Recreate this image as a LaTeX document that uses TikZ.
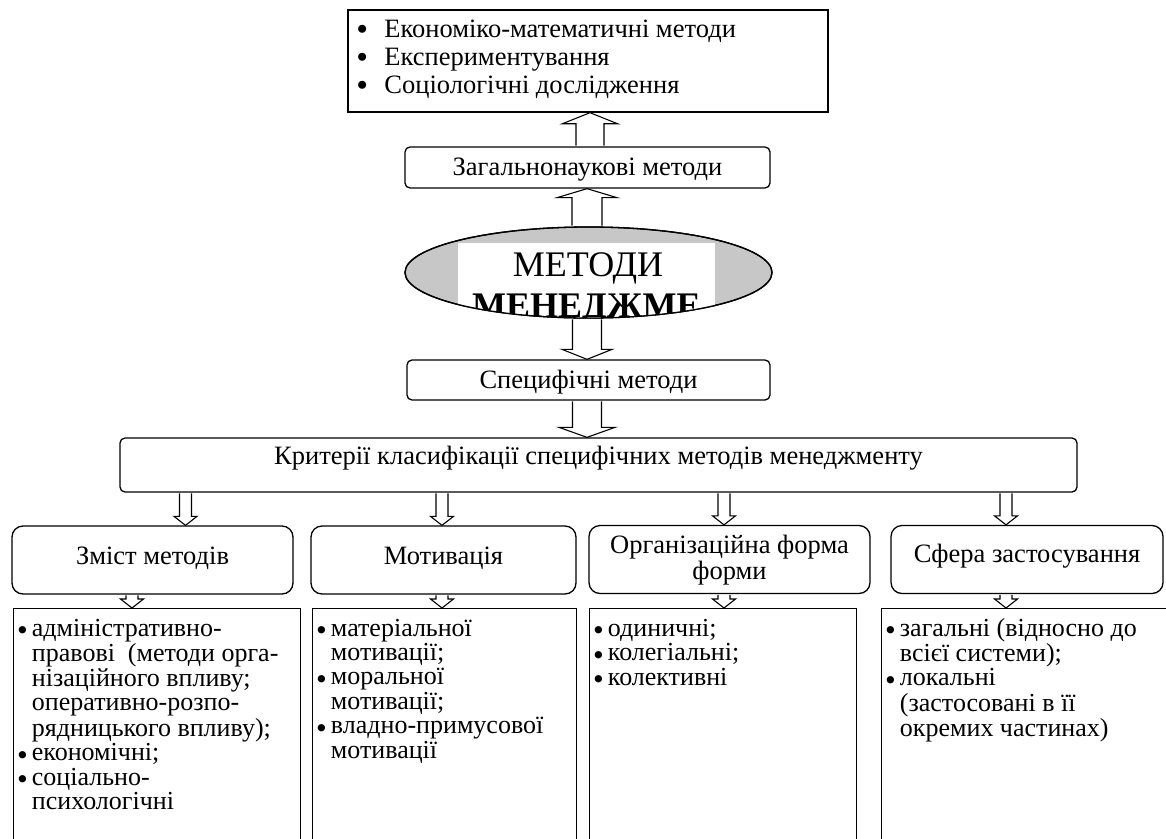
\documentclass[tikz,border=0pt]{standalone}
\usepackage{fontspec}
\setmainfont{Liberation Serif}
\newfontfamily\bulfont{DejaVu Sans}
\usetikzlibrary{calc,shapes.geometric}
% hollow block arrow: #1 from, #2 to, #3 shaft half width, #4 head half width, #5 head length
\newcommand\blkarrow[5]{%
  \draw[blk] let \p1=(#1), \p2=(#2), \n1={ifthenelse(\y1>\y2,1,-1)} in
   (\x1-#3pt,\y1-\n1*0.7pt) -- (\x1-#3pt,\y2+\n1*#5pt) -- (\x1-#4pt,\y2+\n1*#5pt) -- (\x2,\y2)
   -- (\x1+#4pt,\y2+\n1*#5pt) -- (\x1+#3pt,\y2+\n1*#5pt) -- (\x1+#3pt,\y1-\n1*0.7pt);}
% text with its baseline put #1 pt above the node centre
\newcommand\bl[2]{\raisebox{#1pt}[0pt][0pt]{#2}}
% bullets, raised by #1 pt
\newcommand\bul[1]{\raisebox{#1pt}[0pt][0pt]{\bulfont\fontsize{25}{0}\selectfont •}}
\newcommand\bigbul[1]{\raisebox{#1pt}[0pt][0pt]{\bulfont\fontsize{27.5}{0}\selectfont •}}
\tikzset{
  rbox/.style={draw, line width=1.3pt, rounded corners=5pt, inner sep=0pt},
  rrbox/.style={draw, line width=1.3pt, rounded corners=11pt, inner sep=0pt},
  sqbox/.style={draw, line width=1.4pt, inner sep=0pt},
  blk/.style={draw, line width=1.1pt, fill=white, line join=miter},
  lbl/.style={font=\fontsize{26.5}{26}\selectfont},
  txt/.style={inner sep=0pt, font=\fontsize{26}{24.3}\selectfont},
}
\begin{document}
\begin{tikzpicture}[x=1pt,y=-1pt]
\useasboundingbox (0,0) rectangle (1166,838);
\clip (0,0) rectangle (1166,838);

% top box
\node[sqbox, minimum width=480pt, minimum height=102pt] (top) at (588,61) {};
\node[inner sep=0pt, anchor=base west, font=\fontsize{26.5}{28}\selectfont] (topt) at (354,37)
 {\begin{tabular}[t]{@{}l@{\hspace{14pt}}l@{}}
 \bigbul{-2} & Економіко-математичні методи\\
 \bigbul{-2} & Експериментування\\
 \bigbul{-2} & Соціологічні дослідження
 \end{tabular}};

\node[rbox, lbl, minimum width=365pt, minimum height=41pt] (gen) at (587.5,167.5) {\bl{-8}{Загальнонаукові методи}};

% ellipse
\node[ellipse, draw, line width=1.3pt, fill=black!22, minimum width=367pt, minimum height=91pt, inner sep=0pt] (ell) at (588.5,272.5) {};
\begin{scope}
  \clip (ell.center) ellipse [x radius=183.5, y radius=45.5];
  \fill[white] (458,243) rectangle (715,330);
  \begin{scope}
    \clip (458,243) rectangle (700,330);
    \node[inner sep=0pt, anchor=base, font=\fontsize{36}{40}\selectfont] (et1) at (588,276) {МЕТОДИ};
    \node[inner sep=0pt, anchor=base west, font=\fontsize{36}{40}\bfseries\selectfont] (et2) at (472,317) {МЕНЕДЖМЕНТУ};
  \end{scope}
\end{scope}
\draw[line width=1.3pt] (ell.center) ellipse [x radius=183.5, y radius=45.5];

\node[rbox, lbl, minimum width=363pt, minimum height=40pt] (spec) at (588.5,380) {\bl{-8}{Специфічні методи}};

\node[rbox, lbl, minimum width=957pt, minimum height=54pt] (crit) at (598.5,465) {\bl{1}{Критерії класифікації специфічних методів менеджменту}};

% second row
\node[rrbox, lbl, minimum width=281pt, minimum height=68pt] (b1) at (152.5,560) {\bl{-4}{Зміст методів}};
\node[rrbox, lbl, minimum width=265pt, minimum height=68pt] (b2) at (443.5,560) {\bl{-4}{Мотивація}};
\node[rrbox, lbl, minimum width=281pt, minimum height=68pt] (b3) at (729.5,559.5) {\bl{6.5}{\begin{tabular}[t]{@{}c@{}}Організаційна форма\\форми\end{tabular}}};
\node[rrbox, lbl, minimum width=272pt, minimum height=68pt] (b4) at (1027,559.5) {\bl{-3}{Сфера застосування}};

% bottom boxes
\node[sqbox, minimum width=287pt, minimum height=260pt, anchor=north west] (l1) at (13,608) {};
\node[sqbox, minimum width=264pt, minimum height=260pt, anchor=north west] (l2) at (312,608) {};
\node[sqbox, minimum width=267pt, minimum height=260pt, anchor=north west] (l3) at (589,608) {};
\node[sqbox, minimum width=300pt, minimum height=260pt, anchor=north west] (l4) at (881,608) {};

\node[txt, anchor=base west] (l1t) at (15,636)
 {\begin{tabular}[t]{@{}l@{\hspace{2pt}}l@{}}
 \bul{-3.5} & адміністративно-\\
   & правові\ \ (методи орга-\\
   & нізаційного впливу;\\
   & оперативно-розпо-\\
   & рядницького впливу);\\
 \bul{-3.5} & економічні;\\
 \bul{-3.5} & соціально-\\
   & психологічні
 \end{tabular}};
\node[txt, anchor=base west] (l2t) at (314,636)
 {\begin{tabular}[t]{@{}l@{\hspace{2pt}}l@{}}
 \bul{-3.5} & матеріальної\\
   & мотивації;\\
 \bul{-3.5} & моральної\\
   & мотивації;\\
 \bul{-3.5} & владно-примусової\\
   & мотивації
 \end{tabular}};
\node[txt, anchor=base west] (l3t) at (591,636)
 {\begin{tabular}[t]{@{}l@{\hspace{2pt}}l@{}}
 \bul{-3.5} & одиничні;\\
 \bul{-3.5} & колегіальні;\\
 \bul{-3.5} & колективні
 \end{tabular}};
\node[txt, anchor=base west] (l4t) at (883,636)
 {\begin{tabular}[t]{@{}l@{\hspace{2pt}}l@{}}
 \bul{-3.5} & загальні (відносно до\\
   & всієї системи);\\
 \bul{-3.5} & локальні\\
   & (застосовані в її\\
   & окремих частинах)
 \end{tabular}};

% arrow columns
\coordinate (cA) at (590,0);
\coordinate (cB) at (587,0);
\coordinate (k1) at (185.5,0);
\coordinate (k2) at (442,0);
\coordinate (k3) at (724,0);
\coordinate (k4) at (1006,0);
\coordinate (m1) at (132,0);

% arrows
\blkarrow{gen.north -| cA}{top.south -| cA}{14}{27.5}{11}
\blkarrow{ell.north -| cB}{gen.south -| cB}{15}{30}{9}
\blkarrow{ell.south -| cB}{spec.north -| cB}{14.5}{25}{10}
\blkarrow{spec.south -| cB}{crit.north -| cB}{14.5}{28}{10}

\blkarrow{crit.south -| k1}{b1.north -| k1}{6}{11.5}{9}
\blkarrow{crit.south -| k2}{b2.north -| k2}{6}{11.5}{9}
\blkarrow{crit.south -| k3}{b3.north -| k3}{6}{11.5}{9}
\blkarrow{crit.south -| k4}{b4.north -| k4}{6}{11.5}{9}

\blkarrow{b1.south -| m1}{l1.north -| m1}{6}{11.5}{9}
\blkarrow{b2.south -| k2}{l2.north -| k2}{6}{11.5}{9}
\blkarrow{b3.south -| k3}{l3.north -| k3}{6}{11.5}{9}
\blkarrow{b4.south -| k4}{l4.north -| k4}{6}{11.5}{9}
\end{tikzpicture}
\end{document}
